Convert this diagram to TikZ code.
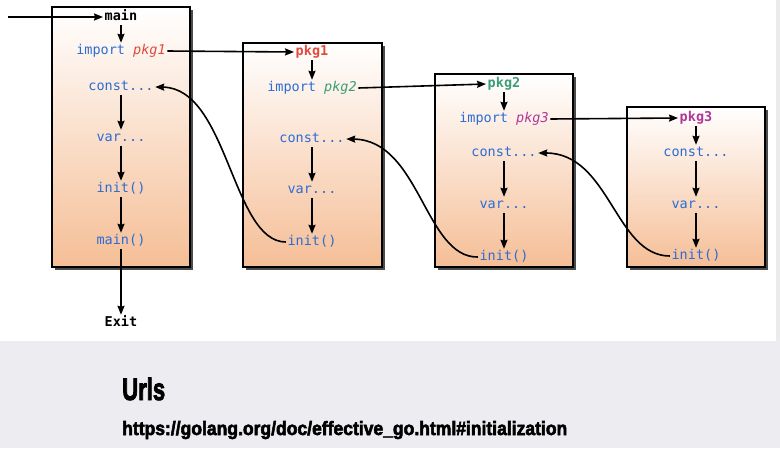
\documentclass[tikz,border=0pt]{standalone}
\usepackage{graphicx}
\usepackage{fontspec}
\setmonofont{DejaVu Sans Mono}
\setsansfont{Liberation Sans}
\newfontfamily\heavyfont{Liberation Sans}[BoldFeatures={FakeBold=3}]
\usetikzlibrary{arrows.meta}
\definecolor{kw}{HTML}{2B6CD4}
\definecolor{pkgred}{HTML}{E24A3B}
\definecolor{pkggreen}{HTML}{3A9E78}
\definecolor{pkgmag}{HTML}{B0389A}
\definecolor{peach}{HTML}{F5BE96}
\definecolor{band}{HTML}{EDECF0}
\newcommand\codefont{\ttfamily\fontsize{13.5pt}{15pt}\selectfont}
\tikzset{
  code/.style={font=\codefont, text=kw, inner sep=1.5pt, text height=10pt, text depth=3pt},
  hdr/.style={code, font=\codefont\bfseries},
  pkgbox/.style={draw=black, line width=1.8pt, top color=white, bottom color=peach},
  boxshadow/.style={fill=black!70},
  arr/.style={-{Stealth[length=9pt,width=7pt,inset=1pt]}, line width=1.6pt, black},
}
\begin{document}
\begin{tikzpicture}[x=1pt,y=-1pt]
\useasboundingbox (0,0) rectangle (780,448);
\fill[white] (0,0) rectangle (780,341);
\fill[black!8] (776,0) rectangle (780,341);
\fill[band] (0,341) rectangle (780,448);

% boxes
\fill[boxshadow] (55,10) rectangle (193,270);
\draw[pkgbox] (52,7) rectangle (190,267);
\fill[boxshadow] (246,46) rectangle (385,270);
\draw[pkgbox] (243,43) rectangle (382,267);
\fill[boxshadow] (438,77) rectangle (576,270);
\draw[pkgbox] (435,74) rectangle (573,267);
\fill[boxshadow] (630,110) rectangle (768,270);
\draw[pkgbox] (627,107) rectangle (765,267);

% box 1 (main)
\coordinate (start) at (8,17);
\node[hdr, text=black] (m1) at (121,17) {main};
\node[code] (i1) at (121,51) {import \textit{\textcolor{pkgred}{pkg1}}};
\node[code] (c1) at (121,87) {const...};
\node[code] (v1) at (121,138) {var...};
\node[code] (n1) at (121,189) {init()};
\node[code] (mm) at (121,241) {main()};
\node[hdr, text=black] (exit) at (121,323) {Exit};

% box 2
\node[hdr, text=pkgred] (p1) at (312,52) {pkg1};
\node[code] (i2) at (312,88) {import \textit{\textcolor{pkggreen}{pkg2}}};
\node[code] (c2) at (312,139) {const...};
\node[code] (v2) at (312,190) {var...};
\node[code] (n2) at (312,242) {init()};

% box 3
\node[hdr, text=pkggreen] (p2) at (504,84) {pkg2};
\node[code] (i3) at (504,119) {import \textit{\textcolor{pkgmag}{pkg3}}};
\node[code] (c3) at (504,153) {const...};
\node[code] (v3) at (504,205) {var...};
\node[code] (n3) at (504,257) {init()};

% box 4
\node[hdr, text=pkgmag] (p3) at (696,118) {pkg3};
\node[code] (c4) at (696,153) {const...};
\node[code] (v4) at (696,205) {var...};
\node[code] (n4) at (696,256) {init()};

% vertical arrows
\draw[arr] (start) -- (m1);
\draw[arr] (m1) -- (i1);
\draw[arr] (c1) -- (v1);
\draw[arr] (v1) -- (n1);
\draw[arr] (n1) -- (mm);
\draw[arr] (mm) -- (exit);
\draw[arr] (p1) -- (i2);
\draw[arr] (c2) -- (v2);
\draw[arr] (v2) -- (n2);
\draw[arr] (p2) -- (i3);
\draw[arr] (c3) -- (v3);
\draw[arr] (v3) -- (n3);
\draw[arr] (p3) -- (c4);
\draw[arr] (c4) -- (v4);
\draw[arr] (v4) -- (n4);

% import arrows
\draw[arr] (i1.east) -- (p1.west);
\draw[arr] (i2.east) -- (p2.west);
\draw[arr] (i3.east) -- (p3.west);

% return arrows
\draw[arr] (n2.west) .. controls (232,242) and (228,88) .. (c1.east);
\draw[arr] (n3.west) .. controls (425,258) and (420,140) .. (c2.east);
\draw[arr] (n4.west) .. controls (615,256) and (610,153) .. (c3.east);

% bottom text
\node[anchor=base west, inner sep=0pt] (urls) at (122,400)
  {\resizebox{43pt}{22.5pt}{\heavyfont\bfseries Urls}};
\node[anchor=base west, inner sep=0pt] (url) at (122,435)
  {\resizebox{445pt}{14pt}{\heavyfont\bfseries https://golang.org/doc/effective\_go.html\#initialization}};
\end{tikzpicture}
\end{document}
